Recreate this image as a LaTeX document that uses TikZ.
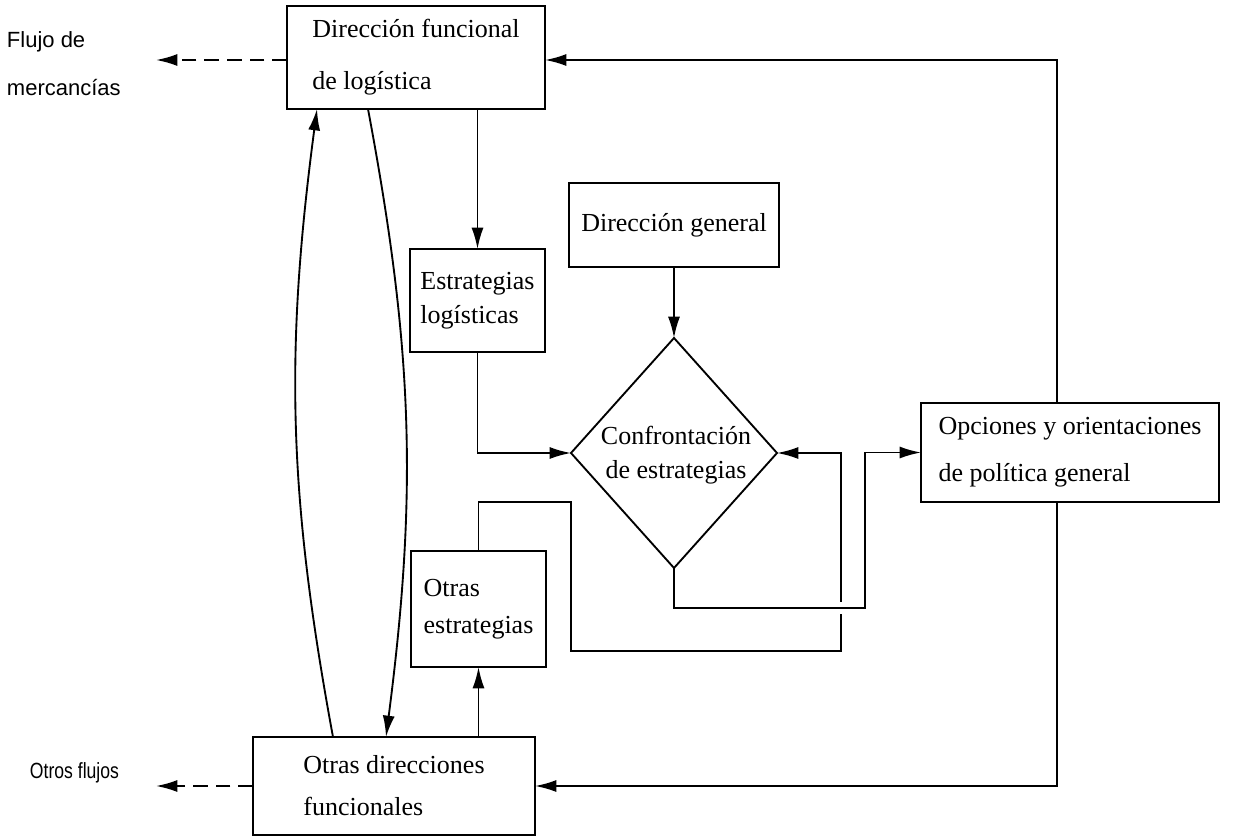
\documentclass[tikz,border=0pt]{standalone}
\usepackage{fontspec}
\usepackage{graphicx}
\setmainfont{Liberation Serif}
\newfontfamily\labelsans{Liberation Sans}
\usetikzlibrary{arrows.meta,shapes.geometric}
% serif text at a fixed size with a chosen line distance
\newcommand\boxfont[1]{\fontsize{19.5pt}{#1pt}\selectfont}
\begin{document}
\begin{tikzpicture}[x=0.75pt,y=-0.75pt,
  every node/.style={inner sep=0pt, outer sep=0pt},
  box/.style={draw, line width=1.4pt, align=left},
  link/.style={line width=1.4pt, -{Latex[length=16pt,width=9pt]}},
  flow/.style={line width=1.4pt, dash pattern=on 11pt off 6pt, -{Latex[length=16pt,width=9pt]}},
  sidelabel/.style={font=\labelsans\fontsize{16.5pt}{36pt}\selectfont, align=left},
]
\useasboundingbox (0,0) rectangle (1236,839);

% boxes
\node[box, minimum width=193.5pt, minimum height=77.25pt, font=\boxfont{39}] (dfl) at (416,57.5) {Dirección funcional\\de logística};
\node[box, minimum width=157.5pt, minimum height=63pt, font=\boxfont{24}] (dg) at (674,225) {Dirección general};
\node[box, minimum width=101.25pt, minimum height=77.25pt, font=\boxfont{25.5}] (el) at (477.5,300.5) {Estrategias\\logísticas};
\node[draw, diamond, line width=1.4pt, minimum width=154.5pt, minimum height=172.5pt] (cf) at (674,453) {};
\node[font=\boxfont{25.5}, align=center] (cft) at (676,455) {Confrontación\\de estrategias};
\node[box, minimum width=223.5pt, minimum height=74.25pt, font=\boxfont{35}] (op) at (1070,452.5) {Opciones y orientaciones\\de política general};
\node[box, minimum width=101.25pt, minimum height=87pt, font=\boxfont{28}] (oe) at (478.5,609) {Otras\\estrategias};
\node[box, minimum width=211.5pt, minimum height=73.5pt, font=\boxfont{31.5}] (od) at (394,786) {Otras direcciones\\funcionales};

% side labels
\node[sidelabel, anchor=west] (fm) at (7,64) {Flujo de\\mercancías};
\node[sidelabel, anchor=west] (of) at (30,773) {\scalebox{0.8}[1]{Otros flujos}};

% routing points
\coordinate (fmtip) at (156,60);
\coordinate (oftip) at (156,786);
\coordinate (ntop) at (1057,60);
\coordinate (nbot) at (1057,786);
\coordinate (upfoot) at (333,737);
\coordinate (uphead) at (317,109);
\coordinate (dnfoot) at (368,109);
\coordinate (dnhead) at (386,737);
\coordinate (la) at (571,502);
\coordinate (lb) at (841,651);
\coordinate (lc) at (865,608);

% dashed outflows
\draw[flow] (dfl.west |- fmtip) -- (fmtip);
\draw[flow] (od.west |- oftip) -- (oftip);

% feedback from general policy
\draw[link] (op.north -| ntop) -- (ntop) -- (dfl.east |- ntop);
\draw[link] (op.south -| nbot) -- (nbot) -- (od.east |- nbot);

% strategy flows
\draw[link] (dfl.south -| el.north) -- (el.north);
\draw[link] (dg.south) -- (cf.north);
\draw[link] (el.south) |- (cf.west);
\draw[link] (oe.north) |- (la) |- (lb) |- (cf.east);
\node[fill=white, minimum width=3pt, minimum height=9pt] (gap) at (lb |- lc) {};
\draw[link] (cf.south) |- (lc) |- (op.west);
\draw[link] (od.north -| oe.south) -- (oe.south);

% exchanges between the functional directions
\draw[link] (upfoot) to[bend left=9] (uphead);
\draw[link] (dnfoot) to[bend left=9] (dnhead);
\end{tikzpicture}
\end{document}
